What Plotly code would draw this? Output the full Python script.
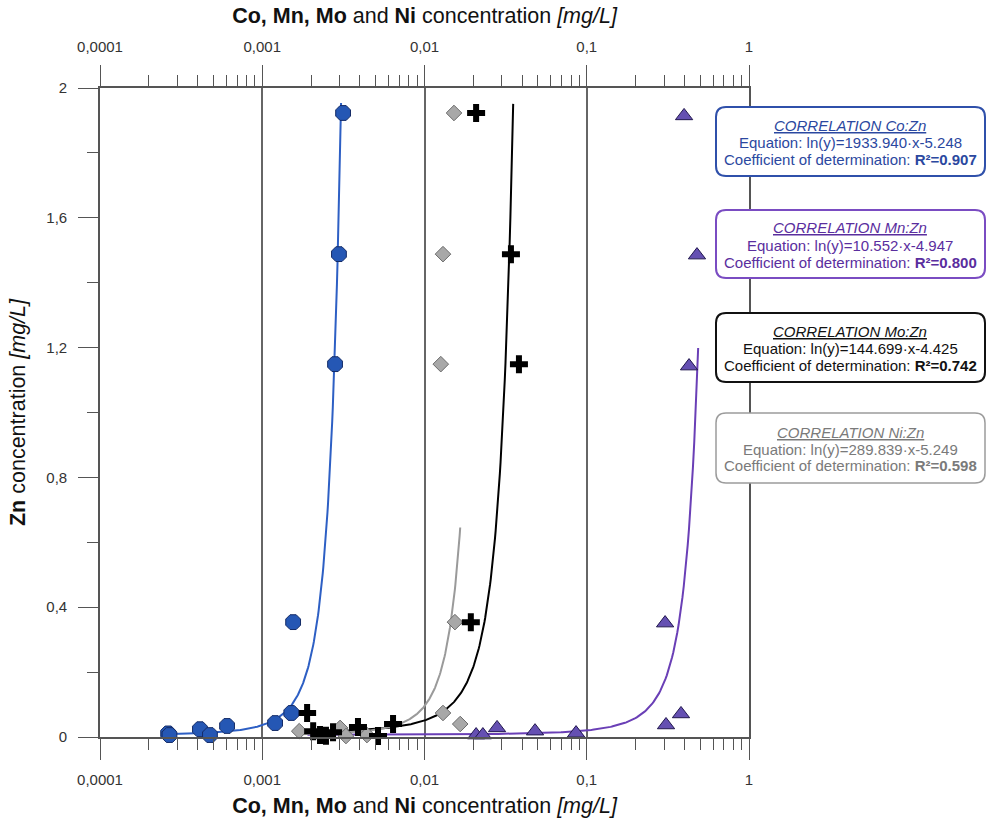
import numpy as np
import plotly.graph_objects as go

# ---------------- data ----------------
co_x = [0.000263, 0.000268, 0.000413, 0.000476, 0.000607, 0.00120, 0.00151, 0.00155, 0.00281, 0.00297, 0.00315]
co_y = [0.011, 0.006, 0.024, 0.006, 0.034, 0.043, 0.074, 0.354, 1.149, 1.488, 1.923]

mo_x = [0.00189, 0.00206, 0.00227, 0.00247, 0.00273, 0.00389, 0.00517, 0.00640, 0.0193, 0.0208, 0.0341, 0.0382]
mo_y = [0.074, 0.018, 0.006, 0.004, 0.015, 0.031, 0.003, 0.040, 0.354, 1.923, 1.488, 1.149]

ni_x = [0.00169, 0.00302, 0.00328, 0.00442, 0.0126, 0.0130, 0.0130, 0.0152, 0.0154, 0.0166]
ni_y = [0.018, 0.028, 0.003, 0.006, 1.149, 1.488, 0.074, 1.923, 0.354, 0.040]

mn_x = [0.0208, 0.0229, 0.0280, 0.0480, 0.0859, 0.304, 0.308, 0.381, 0.398, 0.427, 0.478]
mn_y = [0.006, 0.006, 0.028, 0.018, 0.012, 0.351, 0.037, 0.071, 1.914, 1.143, 1.485]

# fitted equations ln(y) = a*x + b  (from the chart's boxes)
fit_names = ["Co", "Mn", "Mo", "Ni"]
fit_a = [1933.940, 10.552, 144.699, 289.839]
fit_b = [-5.248, -4.947, -4.425, -5.249]
fit_r2 = ["0.907", "0.800", "0.742", "0.598"]
fit_x_start = [0.00025, 0.0019, 0.0018, 0.0017]
fit_x_end = [0.00306, 0.486, 0.0352, 0.0166]

x_tickvals = [0.0001, 0.001, 0.01, 0.1, 1]
x_ticktext = ["0,0001", "0,001", "0,01", "0,1", "1"]
y_tickvals = [0, 0.4, 0.8, 1.2, 1.6, 2]
y_ticktext = ["0", "0,4", "0,8", "1,2", "1,6", "2"]
y_minor = [0.2, 0.6, 1.0, 1.4, 1.8]
x_minor = [m * d for d in [0.0001, 0.001, 0.01, 0.1] for m in range(2, 10)]

# ---------------- styles ----------------
FONT = "Liberation Sans, Arial, sans-serif"
line_colors = {"Co": "#2d5fc4", "Mn": "#6a3fb6", "Mo": "#000000", "Ni": "#9a9a9a"}
box_text = {"Co": "#2b48a0", "Mn": "#5a2e9e", "Mo": "#111111", "Ni": "#7a7a7a"}
box_border = {"Co": "#2f50aa", "Mn": "#7a4cc2", "Mo": "#111111", "Ni": "#9c9c9c"}

W, H = 988, 828
ML, MR, MT, MB = 100, 239, 88, 91
PW, PH = W - ML - MR, H - MT - MB

fig = go.Figure()

# fit curves
for i, nm in enumerate(fit_names):
    xs = np.geomspace(fit_x_start[i], fit_x_end[i], 300)
    ys = np.exp(fit_a[i] * xs + fit_b[i])
    fig.add_trace(go.Scatter(x=xs, y=ys, mode="lines",
                             line=dict(color=line_colors[nm], width=2),
                             showlegend=False, hoverinfo="skip", cliponaxis=False))

# data points
fig.add_trace(go.Scatter(x=ni_x, y=ni_y, mode="markers", name="Ni",
                         marker=dict(symbol="diamond", size=12, color="#a8a8a8",
                                     line=dict(color="#6c6c6c", width=1)),
                         cliponaxis=False, showlegend=False))
fig.add_trace(go.Scatter(x=mo_x, y=mo_y, mode="markers", name="Mo",
                         marker=dict(symbol="cross", size=15, color="#000000",
                                     line=dict(width=0)),
                         cliponaxis=False, showlegend=False))
fig.add_trace(go.Scatter(x=mn_x, y=mn_y, mode="markers", name="Mn",
                         marker=dict(symbol="triangle-up", size=15, color="#6550b2",
                                     line=dict(color="#22184f", width=1)),
                         cliponaxis=False, showlegend=False))
fig.add_trace(go.Scatter(x=co_x, y=co_y, mode="markers", name="Co",
                         marker=dict(symbol="octagon", size=16, color="#2557b4",
                                     line=dict(color="#142b66", width=1)),
                         cliponaxis=False, showlegend=False))
# dummy trace so the top axis is rendered
fig.add_trace(go.Scatter(x=[0.0001, 1], y=[None, None], xaxis="x2", yaxis="y",
                         showlegend=False, hoverinfo="skip"))

axis_color = "#555555"
tick_font = dict(family=FONT, size=15, color="#333333")
title_font = dict(family=FONT, size=21.5, color="#111111")
title_text = "<b>Co, Mn, Mo</b> and <b>Ni</b> concentration <i>[mg/L]</i>"

common_x = dict(type="log", range=[-4, 0], tickmode="array", tickvals=x_tickvals,
                ticktext=x_ticktext, ticks="outside", ticklen=21, tickwidth=1.4,
                tickcolor=axis_color, showline=True, linecolor=axis_color, linewidth=1.6,
                tickfont=tick_font, zeroline=False,
                minor=dict(tickmode="array", tickvals=x_minor, ticks="outside",
                           ticklen=11, tickwidth=1.3, tickcolor=axis_color, showgrid=False))

fig.update_layout(
    width=W, height=H, autosize=False,
    margin=dict(l=ML, r=MR, t=MT, b=MB),
    paper_bgcolor="white", plot_bgcolor="white",
    font=dict(family=FONT),
    xaxis=dict(**common_x, side="bottom", showgrid=True, gridcolor="#666666", gridwidth=1.5,
               title=dict(text=title_text, font=title_font, standoff=11),
               ticklabelstandoff=7),
    xaxis2=dict(**common_x, side="top", overlaying="x", anchor="y", showgrid=False,
                title=dict(text=title_text, font=title_font, standoff=9),
                ticklabelstandoff=7),
    yaxis=dict(range=[0, 2], tickmode="array", tickvals=y_tickvals, ticktext=y_ticktext,
               ticks="outside", ticklen=20, tickwidth=1.4, tickcolor=axis_color,
               showline=True, linecolor=axis_color, linewidth=1.6, mirror=True,
               showgrid=False, zeroline=False, tickfont=tick_font,
               ticklabelstandoff=8,
               minor=dict(tickmode="array", tickvals=y_minor, ticks="outside",
                          ticklen=11, tickwidth=1.3, tickcolor=axis_color, showgrid=False),
               title=dict(text="<b>Zn</b> concentration <i>[mg/L]</i>",
                          font=title_font, standoff=15)),
)

# correlation boxes (pixel positions converted to paper coordinates)
def px2paper(px, py):
    return (px - ML) / PW, (H - MB - py) / PH

def rounded(x0, y0, x1, y1, r=10):
    X0, Y0 = px2paper(x0, y0)
    X1, Y1 = px2paper(x1, y1)
    rx, ry = r / PW, r / PH
    return (f"M {X0+rx},{Y0} L {X1-rx},{Y0} Q {X1},{Y0} {X1},{Y0-ry} "
            f"L {X1},{Y1+ry} Q {X1},{Y1} {X1-rx},{Y1} L {X0+rx},{Y1} "
            f"Q {X0},{Y1} {X0},{Y1+ry} L {X0},{Y0-ry} Q {X0},{Y0} {X0+rx},{Y0} Z")

box_px = {"Co": (716, 107, 985, 176), "Mn": (716, 210, 985, 278),
          "Mo": (716, 313, 985, 382), "Ni": (716, 413, 985, 483)}
box_lw = {"Co": 2, "Mn": 2, "Mo": 2, "Ni": 1.5}

for i, nm in enumerate(fit_names):
    x0, y0, x1, y1 = box_px[nm]
    fig.add_shape(type="path", path=rounded(x0, y0, x1, y1), xref="paper", yref="paper",
                  line=dict(color=box_border[nm], width=box_lw[nm]), fillcolor="white",
                  layer="above")
    lines = [
        f"<span style='text-decoration:underline'><i>CORRELATION {nm}:Zn</i></span>",
        f"Equation: ln(y)={fit_a[i]:.3f}·x{fit_b[i]:.3f}",
        f"Coefficient of determination: <b>R²={fit_r2[i]}</b>",
    ]
    cyc = (y0 + y1) / 2
    for k, (t, dy) in enumerate(zip(lines, [-16, 1, 18])):
        cx, cy = px2paper((x0 + x1) / 2, cyc + dy)
        fig.add_annotation(x=cx, y=cy, xref="paper", yref="paper", text=t, showarrow=False,
                           xanchor="center", yanchor="middle", align="center",
                           font=dict(family=FONT, size=15, color=box_text[nm]))

fig.write_html("out.html", config={"displayModeBar": False},
               post_script="document.body.style.margin='0';document.body.style.overflow='hidden';")
